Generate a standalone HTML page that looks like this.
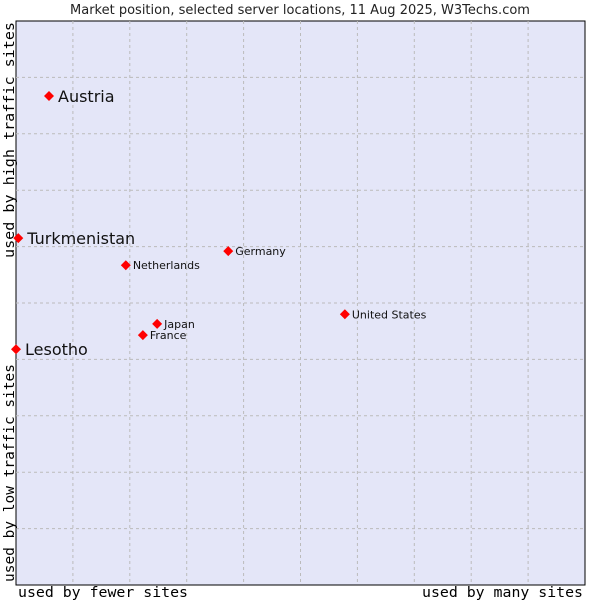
<!DOCTYPE html>
<html><head><meta charset="utf-8"><style>
body{margin:0;background:#fff;}
svg{display:block;font-family:"DejaVu Sans","Liberation Sans",sans-serif;}
</style></head><body>
<svg id="chart" width="600" height="600" viewBox="0 0 600 600">
<text x="300" y="14" text-anchor="middle" font-size="13" fill="#222">Market position, selected server locations, 11 Aug 2025, W3Techs.com</text>
<rect x="16" y="21" width="569" height="564" fill="#e4e6f8" stroke="#000" stroke-width="1"/>
<g id="grid"></g>
<g id="points"></g>
<text x="18" y="597" font-family="DejaVu Sans Mono,Liberation Mono,monospace" font-size="14.5" textLength="170" lengthAdjust="spacingAndGlyphs" fill="#000">used by fewer sites</text>
<text x="422" y="597" font-family="DejaVu Sans Mono,Liberation Mono,monospace" font-size="14.5" textLength="161" lengthAdjust="spacingAndGlyphs" fill="#000">used by many sites</text>
<text transform="translate(14,258) rotate(-90)" font-family="DejaVu Sans Mono,Liberation Mono,monospace" font-size="14.5" textLength="236" lengthAdjust="spacingAndGlyphs" fill="#000">used by high traffic sites</text>
<text transform="translate(14,582) rotate(-90)" font-family="DejaVu Sans Mono,Liberation Mono,monospace" font-size="14.5" textLength="218" lengthAdjust="spacingAndGlyphs" fill="#000">used by low traffic sites</text>
</svg>
<script>
const names=["Austria","Turkmenistan","Lesotho","Germany","Netherlands","United States","Japan","France"];
const xVals=[5.8,0.4,0,37.3,19.3,57.8,24.8,22.3];
const yVals=[86.7,61.5,41.8,59.2,56.7,48.0,46.3,44.3];
const bigLabel=[true,true,true,false,false,false,false,false];
const NS="http://www.w3.org/2000/svg";
const L=16,T=21,W=569,H=564;
const sx=v=>L+v/100*W, sy=v=>T+H-v/100*H;
const grid=document.getElementById('grid');
for(let i=1;i<10;i++){
  const v=document.createElementNS(NS,'line');
  
  
  v.setAttribute('x1',sx(i*10));v.setAttribute('x2',sx(i*10));
  v.setAttribute('y1',T);v.setAttribute('y2',T+H);
  v.setAttribute('stroke','#bbb');v.setAttribute('stroke-dasharray','3,3');
  grid.appendChild(v);
  const h=document.createElementNS(NS,'line');
  
  
  h.setAttribute('y1',sy(i*10));h.setAttribute('y2',sy(i*10));
  h.setAttribute('x1',L);h.setAttribute('x2',L+W);
  h.setAttribute('stroke','#bbb');h.setAttribute('stroke-dasharray','3,3');
  grid.appendChild(h);
}
const pts=document.getElementById('points');
names.forEach((n,i)=>{
  const x=sx(xVals[i]),y=sy(yVals[i]);
  const c=document.createElementNS(NS,'path');
  
  
  c.setAttribute('d',`M${x-5} ${y}L${x} ${y-5}L${x+5} ${y}L${x} ${y+5}Z`);
  c.setAttribute('fill','#f00');
  pts.appendChild(c);
  const t=document.createElementNS(NS,'text');
  
  
  t.setAttribute('x',x+(bigLabel[i]?9:7));
  t.setAttribute('y',y+(bigLabel[i]?6:4));
  t.setAttribute('font-size',bigLabel[i]?16:11);
  t.setAttribute('fill','#111');
  t.textContent=n;
  pts.appendChild(t);
});
</script>
</body></html>
